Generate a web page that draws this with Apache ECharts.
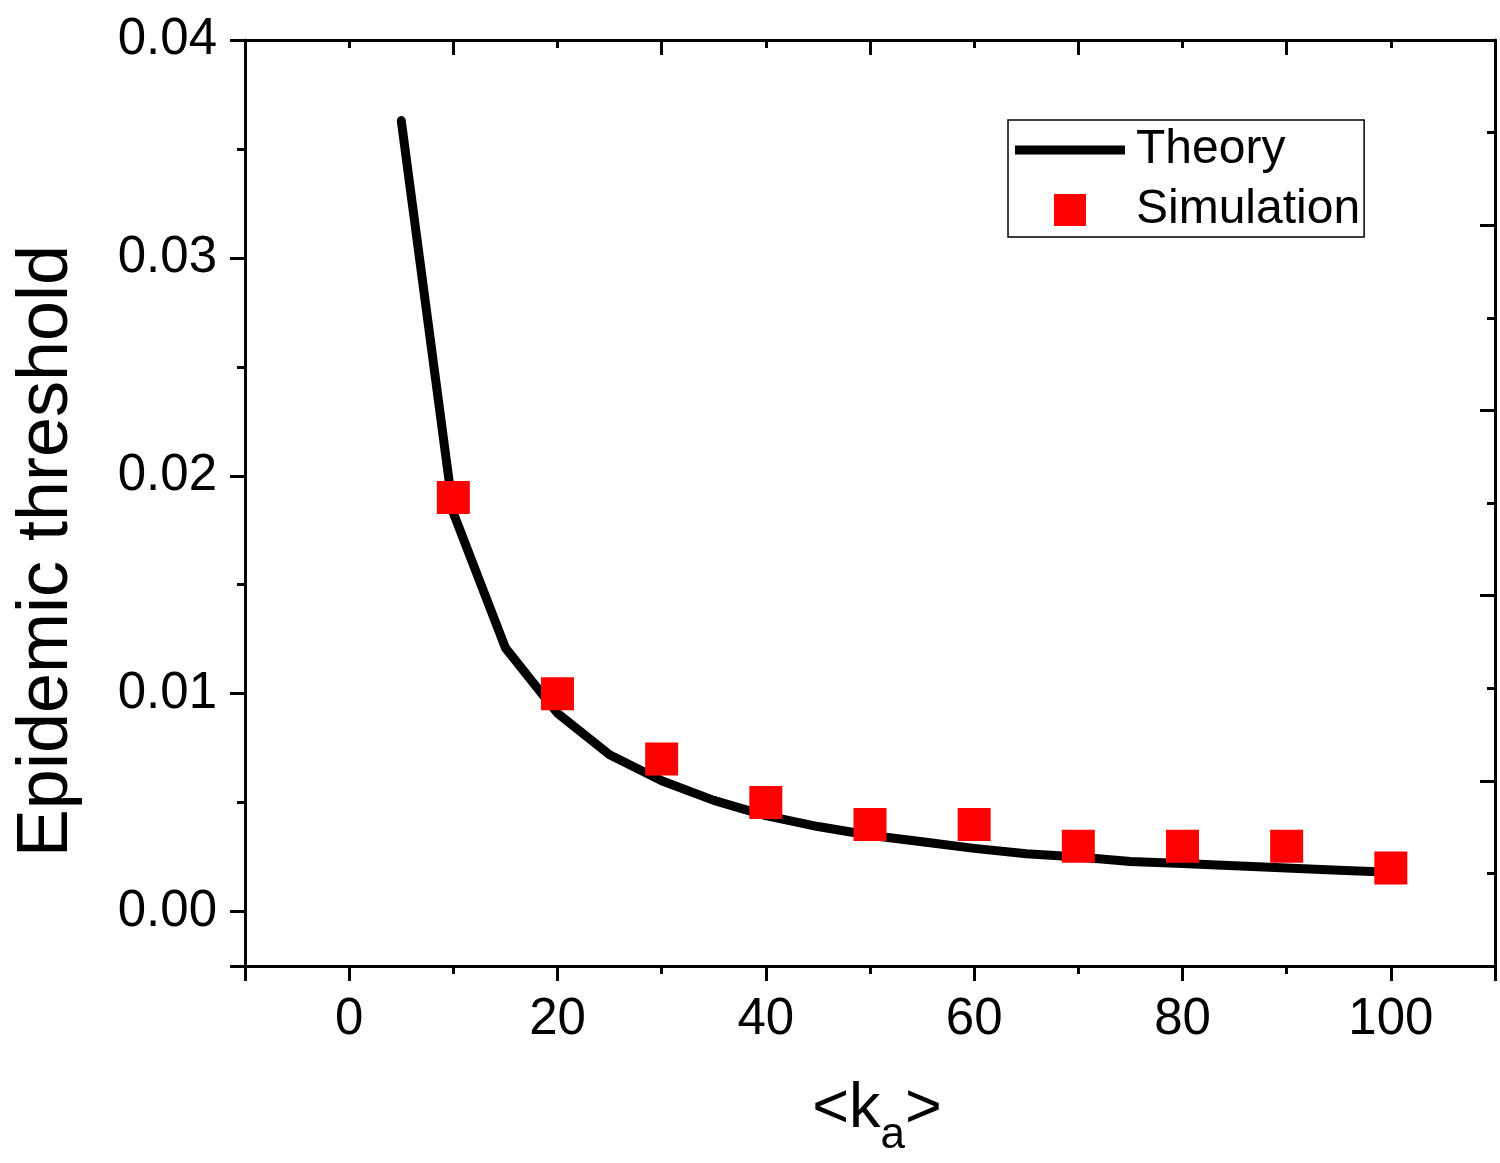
<!DOCTYPE html>
<html>
<head>
<meta charset="utf-8">
<script src="https://cdn.jsdelivr.net/npm/echarts@6/dist/echarts.min.js"></script>
<style>
  html, body { margin: 0; padding: 0; background: #fff; }
  #chart { width: 1500px; height: 1163px; }
</style>
</head>
<body>
<div id="chart"></div>
<script>
// theory curve
var theoryK = [5, 10, 15, 20, 25, 30, 35, 40, 45, 50, 55, 60, 65, 70, 75, 80, 85, 90, 95, 100];
var theoryVal = [0.0363, 0.0183, 0.0121, 0.0091, 0.0072, 0.0060, 0.0051, 0.0044, 0.0039, 0.0035,
                 0.0032, 0.0029, 0.00265, 0.0025, 0.0023, 0.0022, 0.0021, 0.0020, 0.0019, 0.0018];
// simulation points
var simK = [10, 20, 30, 40, 50, 60, 70, 80, 90, 100];
var simVal = [0.019, 0.010, 0.007, 0.005, 0.004, 0.004, 0.003, 0.003, 0.003, 0.002];

var font = '"Liberation Sans", Arial, Helvetica, sans-serif';

var theoryData = [];
for (var i = 0; i < theoryK.length; i++) theoryData.push([theoryK[i], theoryVal[i]]);
var simData = [];
for (var j = 0; j < simK.length; j++) simData.push([simK[j], simVal[j]]);

var chart = echarts.init(document.getElementById('chart'));

var axisLine = { show: true, onZero: false, lineStyle: { color: '#000', width: 3 } };
var tickOut = { show: true, inside: false, length: 15, lineStyle: { color: '#000', width: 3 } };
var tickIn = { show: true, inside: true, length: 15, lineStyle: { color: '#000', width: 3 } };
var minor = { show: true, splitNumber: 2, length: 8, lineStyle: { color: '#000', width: 3 } };

chart.setOption({
    animation: false,
    backgroundColor: '#fff',
    grid: { left: 245, right: 5, top: 40, bottom: 191, containLabel: false },
    legend: {
        orient: 'vertical',
        left: 1008,
        top: 120,
        padding: [6, 4, 3, 7],
        borderColor: '#000',
        borderWidth: 1.5,
        itemWidth: 110,
        itemHeight: 32,
        itemGap: 12,
        textStyle: { fontFamily: font, fontSize: 48, color: '#000', lineHeight: 48, padding: [0, 0, 0, 6] },
        data: [
            { name: 'Theory', icon: 'path://M0,0 H110 V9 H0 Z' },
            { name: 'Simulation', icon: 'path://M0,0 H10 V10 H0 Z' }
        ]
    },
    xAxis: [{
        type: 'value',
        position: 'bottom',
        min: -10,
        max: 110,
        splitNumber: 6,
        axisLine: axisLine,
        axisTick: tickOut,
        minorTick: minor,
        splitLine: { show: false },
        axisLabel: {
            fontFamily: font, fontSize: 51, color: '#000', margin: 28,
            formatter: function (v) { return (v >= 0 && v <= 100 && v % 20 === 0) ? String(v) : ''; }
        },
        name: '<k{sub|a}>',
        nameLocation: 'middle',
        nameGap: 96,
        nameTextStyle: {
            fontFamily: font, fontSize: 63, color: '#000', padding: [0, 0, 0, 14],
            rich: { sub: { fontFamily: font, fontSize: 44, color: '#000', verticalAlign: 'bottom', padding: [52, 0, 0, 0] } }
        }
    }, {
        type: 'value',
        position: 'top',
        min: 0,
        max: 12,
        interval: 2,
        axisLine: axisLine,
        axisTick: tickIn,
        minorTick: minor,
        splitLine: { show: false },
        axisLabel: { show: false }
    }],
    yAxis: [{
        type: 'value',
        position: 'left',
        min: -0.0025,
        max: 0.04,
        splitNumber: 5,
        axisLine: axisLine,
        axisTick: tickOut,
        minorTick: minor,
        splitLine: { show: false },
        axisLabel: {
            fontFamily: font, fontSize: 51, color: '#000', margin: 28,
            formatter: function (v) {
                var r = Math.round(v * 100) / 100;
                return (Math.abs(v - r) < 1e-9 && v >= 0) ? r.toFixed(2) : '';
            }
        },
        name: 'Epidemic threshold',
        nameLocation: 'middle',
        nameGap: 162,
        nameRotate: 90,
        nameTextStyle: { fontFamily: font, fontSize: 72, color: '#000', padding: [0, 96, 0, 0] }
    }, {
        type: 'value',
        position: 'right',
        min: 0,
        max: 10,
        interval: 2,
        axisLine: axisLine,
        axisTick: tickIn,
        minorTick: minor,
        splitLine: { show: false },
        axisLabel: { show: false }
    }],
    series: [{
        name: 'Theory',
        type: 'line',
        xAxisIndex: 0,
        yAxisIndex: 0,
        data: theoryData,
        showSymbol: false,
        symbol: 'none',
        smooth: false,
        lineStyle: { color: '#000', width: 9, cap: 'round', join: 'round' },
        itemStyle: { color: '#000' },
        z: 2
    }, {
        name: 'Simulation',
        type: 'scatter',
        xAxisIndex: 0,
        yAxisIndex: 0,
        data: simData,
        symbol: 'rect',
        symbolSize: 33,
        itemStyle: { color: '#ff0000', opacity: 1 },
        z: 3
    }]
});
</script>
</body>
</html>
